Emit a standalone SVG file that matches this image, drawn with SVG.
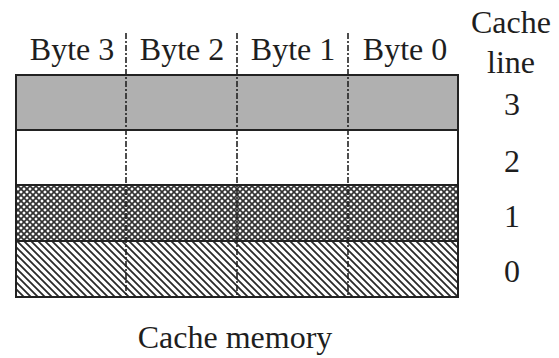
<svg xmlns="http://www.w3.org/2000/svg" width="559" height="358" viewBox="0 0 559 358">
<defs>
<pattern id="hatch" patternUnits="userSpaceOnUse" width="7" height="7">
<rect width="7" height="7" fill="#fff"/>
<path d="M-1,-1 L8,8 M-1,6 L1,8 M6,-1 L8,1" stroke="#2a2a2a" stroke-width="1.8"/>
</pattern>
<pattern id="cross" patternUnits="userSpaceOnUse" width="6" height="6">
<rect width="6" height="6" fill="#fff"/>
<path d="M-1,-1 L7,7 M-1,5 L1,7 M5,-1 L7,1 M-1,7 L7,-1 M-1,1 L1,-1 M5,7 L7,5" stroke="#333" stroke-width="1.7"/>
</pattern>
<style>
.row{stroke:#222;stroke-width:2}
.div{stroke:#222;stroke-width:1.6;stroke-dasharray:6,2,2,2;fill:none}
</style>
</defs>
<g id="line3"><rect class="row" x="16" y="75" width="442" height="55" fill="#b0b0b0"/></g>
<g id="line2"><rect class="row" x="16" y="130" width="442" height="55" fill="#fff"/></g>
<g id="line1"><rect class="row" x="16" y="185" width="442" height="56" fill="url(#cross)"/></g>
<g id="line0"><rect class="row" x="16" y="241" width="442" height="56" fill="url(#hatch)"/></g>
<g id="dividers">
<line class="div" x1="126" y1="33" x2="126" y2="297"/>
<line class="div" x1="237" y1="33" x2="237" y2="297"/>
<line class="div" x1="348" y1="33" x2="348" y2="297"/>
</g>
<g id="labels" fill="#1e1e1e" text-anchor="middle">
<text x="72" y="60" font-family="Liberation Serif" font-size="32">Byte 3</text>
<text x="182" y="60" font-family="Liberation Serif" font-size="32">Byte 2</text>
<text x="293" y="60" font-family="Liberation Serif" font-size="32">Byte 1</text>
<text x="405" y="60" font-family="Liberation Serif" font-size="32">Byte 0</text>
<text x="511" y="33" font-family="Liberation Serif" font-size="32">Cache</text>
<text x="511" y="73" font-family="Liberation Serif" font-size="32">line</text>
<text x="512" y="115" font-family="Liberation Serif" font-size="32">3</text>
<text x="512" y="172" font-family="Liberation Serif" font-size="32">2</text>
<text x="512" y="227" font-family="Liberation Serif" font-size="32">1</text>
<text x="512" y="282" font-family="Liberation Serif" font-size="32">0</text>
<text x="235" y="348" font-family="Liberation Serif" font-size="32">Cache memory</text>
</g>
</svg>
